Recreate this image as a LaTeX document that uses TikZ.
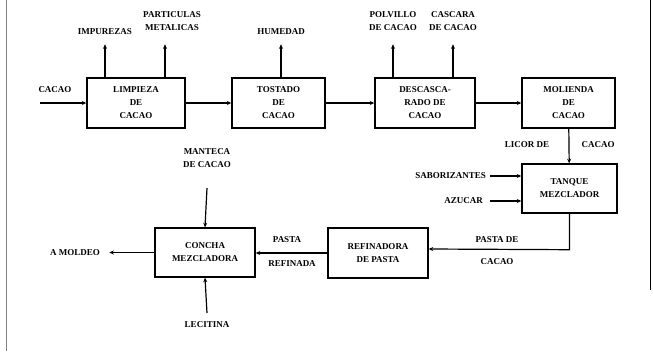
\documentclass[tikz,border=0pt]{standalone}
\usepackage{fontspec}
\setmainfont{Liberation Serif}
\usetikzlibrary{arrows.meta}
\begin{document}
\begin{tikzpicture}[x=1pt,y=-1pt,
  proc/.style={draw,line width=1.4pt,minimum width=98pt,minimum height=50pt,align=center,inner sep=0pt,font=\fontsize{9}{13}\selectfont\bfseries},
  lbl/.style={font=\fontsize{9}{13}\selectfont\bfseries,inner sep=0pt,align=center},
  flow/.style={line width=1.2pt,-{Stealth[length=4.5pt,width=4pt]}}]
\useasboundingbox (0,0) rectangle (653,351);
\draw[line width=0.5pt,gray] (6,0) -- (6,351);
\draw[line width=1.3pt] (650.5,0) -- (650.5,290);
% boxes
\node[proc] (limp) at (136,103) {LIMPIEZA\\DE\\CACAO};
\node[proc,minimum width=93pt] (tost) at (278.5,103) {TOSTADO\\DE\\CACAO};
\node[proc,minimum width=100pt] (desc) at (425,103) {DESCASCA-\\RADO DE\\CACAO};
\node[proc,minimum width=93pt] (mol) at (568.5,103) {MOLIENDA\\DE\\CACAO};
\node[proc,minimum width=95pt,minimum height=49pt] (tanq) at (569.5,188.5) {TANQUE\\MEZCLADOR};
\node[proc,minimum width=100pt] (ref) at (378,253) {REFINADORA\\DE PASTA};
\node[proc,minimum width=100pt,minimum height=49pt] (conc) at (205,252.5) {CONCHA\\MEZCLADORA};
% labels
\node[lbl] (cacao) at (55,90) {CACAO};
\coordinate (cin) at (40,103);
\node[lbl] (imp) at (105,32) {IMPUREZAS};
\node[lbl] (part) at (172,21) {PARTICULAS\\METALICAS};
\node[lbl] (hum) at (281,32) {HUMEDAD};
\node[lbl] (polv) at (393,21) {POLVILLO\\DE CACAO};
\node[lbl] (casc) at (453,21) {CASCARA\\DE CACAO};
\node[lbl] (licor) at (527,145) {LICOR DE};
\node[lbl] (licor2) at (598,145) {CACAO};
\node[lbl,anchor=east] (sab) at (486,176) {SABORIZANTES};
\node[lbl,anchor=east] (azu) at (483,201) {AZUCAR};
\node[lbl] (pdc1) at (497,240) {PASTA DE};
\node[lbl] (pdc2) at (497,262) {CACAO};
\node[lbl] (pr1) at (287,240) {PASTA};
\node[lbl] (pr2) at (292,264) {REFINADA};
\node[lbl,anchor=east] (mold) at (100,253) {A MOLDEO};
\node[lbl] (mant) at (207,158) {MANTECA\\DE CACAO};
\node[lbl] (lec) at (207,325) {LECITINA};
% connectors
\draw[flow] (cin) -- (limp.west);
\draw[flow] (limp) -- (tost);
\draw[flow] (tost) -- (desc);
\draw[flow] (desc) -- (mol);
\draw[flow] (limp.north -| imp) -- ++(0,-33);
\draw[flow] (limp.north -| 165,0) -- ++(0,-33);
\draw[flow] (tost.north -| hum) -- ++(0,-33);
\draw[flow] (desc.north -| polv) -- ++(0,-33);
\draw[flow] (desc.north -| casc) -- ++(0,-33);
\draw[flow] (mol) -- (tanq);
\draw[flow] (490,176) -- (tanq.west |- sab);
\draw[flow] (490,201) -- (tanq.west |- azu);
\draw[flow] (tanq.south) -- ++(0,36) -- (ref.east |- 0,249);
\draw[flow] (ref.west |- 0,253) -- (conc.east |- 0,253);
\draw[flow] (conc.west) -- ++(-45,0);
\draw[flow] (207,188) -- (conc.north);
\draw[flow] (207,313) -- (conc.south);
\end{tikzpicture}
\end{document}
